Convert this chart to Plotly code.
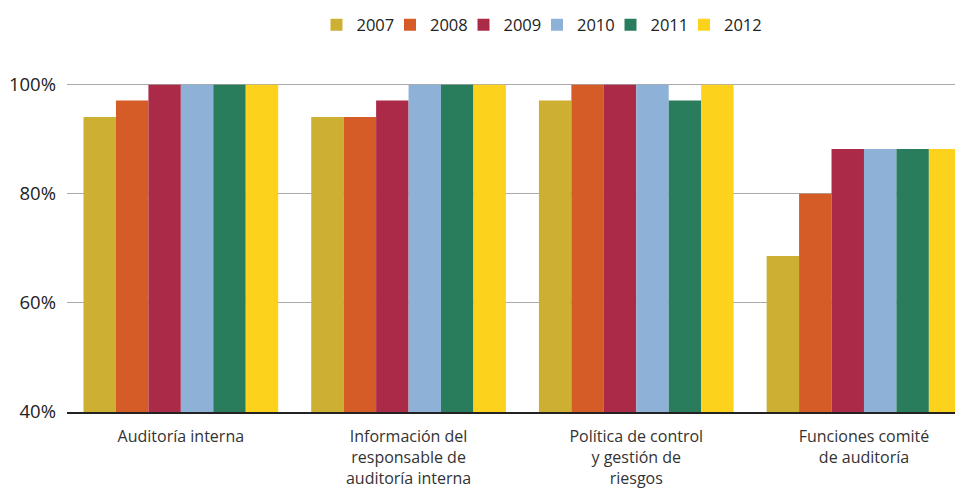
import plotly.graph_objects as go

categories = [
    "Auditoría interna",
    "Información del<br>responsable de<br>auditoría interna",
    "Política de control<br>y gestión de<br>riesgos",
    "Funciones comité<br>de auditoría",
]
years = ["2007", "2008", "2009", "2010", "2011", "2012"]

v2007 = [94.1, 94.1, 97.1, 68.6]
v2008 = [97.1, 94.1, 100, 80.0]
v2009 = [100, 97.1, 100, 88.2]
v2010 = [100, 100, 100, 88.2]
v2011 = [100, 100, 97.1, 88.2]
v2012 = [100, 100, 100, 88.2]

colors = ["#CDB032", "#D55B27", "#AB2A48", "#8EB1D8", "#2A7D5C", "#FDD21D"]
series = [v2007, v2008, v2009, v2010, v2011, v2012]

fig = go.Figure()
for name, vals, col in zip(years, series, colors):
    fig.add_trace(go.Bar(x=categories, y=vals, name=name,
                         marker_color=col, marker_line_width=0))

# blank legend entry so the last label isn't clipped by the narrow entrywidth
fig.add_trace(go.Scatter(x=[None], y=[None], mode="markers", name=" ",
                         marker=dict(color="rgba(0,0,0,0)"), hoverinfo="skip"))

# page body has an 8px margin, so margins are shifted by 8px
fig.update_layout(
    width=963, height=492,
    paper_bgcolor="white", plot_bgcolor="white",
    font=dict(family="Open Sans", size=16, color="#333333"),
    barmode="group", bargap=0.145, bargroupgap=0,
    margin=dict(l=59, r=0, t=74, b=88, autoexpand=False),
    legend=dict(
        orientation="h", x=0.276, xanchor="left", y=1.173, yanchor="middle",
        font=dict(size=16.5, color="#222222"), itemwidth=30,
        entrywidth=28.5, traceorder="normal",
    ),
)
fig.update_yaxes(
    range=[40, 100.5], tickvals=[40, 60, 80, 100],
    ticktext=["40%", "60%", "80%", "100%"],
    showgrid=True, gridcolor="#AAAAAA", gridwidth=1,
    zeroline=False, ticks="", ticklabelstandoff=10, automargin=False,
    tickfont=dict(size=18.5, color="#222222"),
)
fig.update_xaxes(
    range=[-0.5, 3.47], showline=True, linecolor="#222222", linewidth=1.5,
    ticks="", automargin=False, ticklabelstandoff=9,
    tickfont=dict(size=16, color="#333333"),
)

fig.write_html("out.html")
